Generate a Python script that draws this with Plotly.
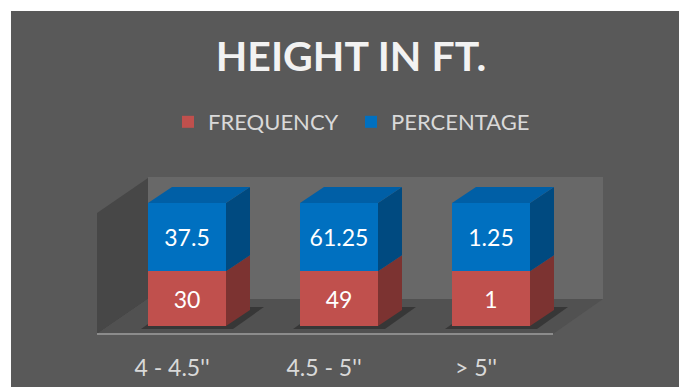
import plotly.graph_objects as go

# ---- data ----
categories = ["4 - 4.5''", "4.5 - 5''", "> 5''"]
frequency = [30, 49, 1]
percentage = [37.5, 61.25, 1.25]

# ---- colours ----
BG = "#595959"
BACK_WALL = "#686868"
SIDE_WALL = "#474747"
FLOOR = "#515151"
RED, RED_SIDE = "#C0504D", "#7C3331"
BLUE, BLUE_SIDE, BLUE_TOP = "#0070C0", "#004A80", "#005FA6"
TEXT = "#D9D9D9"

# ---- page / plot-area geometry (pixels) ----
W, H = 679, 387
FRAME_X, FRAME_Y = 11, 11               # white page margin at top / left
L, R, T, B = 97, 603, 177, 336          # plot area edges
CAT0_PX, CAT_STEP = 187, 152            # first category centre, spacing
ZERO_PX, FULL_PX = 326, 203             # y pixel of 0 % and 100 %
BAR_W = 78 / CAT_STEP                   # bar width in category units
DEPTH_X, DEPTH_Y = 24, 16               # oblique depth offset of a bar (px)

px_per_x = CAT_STEP
px_per_y = (ZERO_PX - FULL_PX) / 100.0
x_lo = (L - CAT0_PX) / px_per_x
x_hi = (R - CAT0_PX) / px_per_x
y_lo = -(B - ZERO_PX) / px_per_y
y_hi = (ZERO_PX - T) / px_per_y


def X(px):
    return (px - CAT0_PX) / px_per_x


def Y(py):
    return (ZERO_PX - py) / px_per_y


def PX(px):
    return (px - L) / (R - L)


def PY(py):
    return (B - py) / (B - T)


dx = DEPTH_X / px_per_x
dy = DEPTH_Y / px_per_y

# 100 % stacked shares
totals = [f + p for f, p in zip(frequency, percentage)]
freq_pct = [100.0 * f / t for f, t in zip(frequency, totals)]
perc_pct = [100.0 * p / t for p, t in zip(percentage, totals)]

fig = go.Figure()


def poly(pts):
    return "M " + " L ".join(f"{a},{b}" for a, b in pts) + " Z"


shapes = [
    # white page strips along the top and left edges (kept inside the page)
    dict(type="rect", xref="paper", yref="paper",
         x0=PX(0), x1=PX(W), y0=PY(FRAME_Y), y1=PY(0),
         fillcolor="white", line=dict(width=0), layer="below"),
    dict(type="rect", xref="paper", yref="paper",
         x0=PX(0), x1=PX(FRAME_X), y0=PY(H), y1=PY(0),
         fillcolor="white", line=dict(width=0), layer="below"),
    # back wall
    dict(type="path", path=poly([(X(148), Y(299)), (X(603), Y(299)),
                                 (X(603), Y(177)), (X(148), Y(177))]),
         fillcolor=BACK_WALL, line=dict(width=0), layer="below"),
    # side wall
    dict(type="path", path=poly([(X(97), Y(334)), (X(148), Y(299)),
                                 (X(148), Y(178)), (X(97), Y(213))]),
         fillcolor=SIDE_WALL, line=dict(width=0), layer="below"),
    # floor
    dict(type="path", path=poly([(X(97), Y(334)), (X(148), Y(299)),
                                 (X(603), Y(299)), (X(553), Y(334))]),
         fillcolor=FLOOR, line=dict(width=0), layer="below"),
    # floor front edge
    dict(type="line", x0=X(97), x1=X(553), y0=Y(334), y1=Y(334),
         line=dict(color="#8C8C8C", width=2), layer="below"),
]

# soft shadows around each bar footprint
for i in range(len(categories)):
    x0, x1 = i - BAR_W / 2, i + BAR_W / 2
    ex, ey = 7 / px_per_x, 3 / px_per_y
    shapes.append(dict(
        type="path",
        path=poly([(x0 - ex, -ey), (x1 + ex, -ey),
                   (x1 + dx + 2 * ex, dy + ey), (x0 + dx, dy + ey)]),
        fillcolor="rgba(35,35,35,0.55)", line=dict(width=0), layer="below"))

LABEL_FONT = dict(color="white", size=23, family="Lato")

fig.add_trace(go.Bar(
    name="FREQUENCY", x=list(range(len(categories))), y=freq_pct,
    width=BAR_W, marker=dict(color=RED, line=dict(width=0)),
    text=[str(v) for v in frequency], textposition="inside",
    insidetextanchor="middle", textangle=0, textfont=LABEL_FONT,
))
fig.add_trace(go.Bar(
    name="PERCENTAGE", x=list(range(len(categories))), y=perc_pct,
    width=BAR_W, marker=dict(color=BLUE, line=dict(width=0)),
    text=[f"{v:g}" for v in percentage], textposition="inside",
    insidetextanchor="middle", textangle=0, textfont=LABEL_FONT,
))

# side and top faces of the 3D columns
for i in range(len(categories)):
    x0, x1 = i - BAR_W / 2, i + BAR_W / 2
    segs = [(0, freq_pct[i], RED_SIDE), (freq_pct[i], 100.0, BLUE_SIDE)]
    for ya, yb, col in segs:
        fig.add_trace(go.Scatter(
            x=[x1, x1 + dx, x1 + dx, x1, x1],
            y=[ya, ya + dy, yb + dy, yb, ya],
            fill="toself", fillcolor=col, mode="lines",
            line=dict(width=0, color=col), hoverinfo="skip", showlegend=False))
    fig.add_trace(go.Scatter(
        x=[x0, x0 + dx, x1 + dx, x1, x0],
        y=[100, 100 + dy, 100 + dy, 100, 100],
        fill="toself", fillcolor=BLUE_TOP, mode="lines",
        line=dict(width=0, color=BLUE_TOP), hoverinfo="skip", showlegend=False))

fig.update_layout(
    width=W, height=H, autosize=False,
    margin=dict(l=L, r=W - R, t=T, b=H - B, pad=0, autoexpand=False),
    paper_bgcolor=BG, plot_bgcolor="rgba(0,0,0,0)",
    barmode="stack",
    shapes=shapes,
    showlegend=True,
    title=dict(text="<b>HEIGHT IN FT.</b>", x=351 / W, xanchor="center",
               xref="container", y=1 - 57 / H, yanchor="middle", yref="container",
               font=dict(family="Lato", size=41, color="#F2F2F2")),
    legend=dict(orientation="h", xref="container", yref="container",
                x=168 / W, xanchor="left", y=1 - 122 / H, yanchor="middle",
                entrywidth=138, entrywidthmode="pixels",
                font=dict(family="Lato", size=22, color=TEXT),
                bgcolor="rgba(0,0,0,0)", itemclick=False, traceorder="normal"),
    xaxis=dict(range=[x_lo, x_hi], tickvals=list(range(len(categories))),
               ticktext=categories, showgrid=False, zeroline=False,
               showline=False, ticks="", ticklabelshift=-15,
               ticklabelstandoff=16, fixedrange=True, automargin=False,
               tickfont=dict(family="Lato", size=23, color=TEXT)),
    yaxis=dict(range=[y_lo, y_hi], visible=False, fixedrange=True,
               automargin=False),
    uniformtext=dict(minsize=23, mode="show"),
)

fig.write_html("out.html")
